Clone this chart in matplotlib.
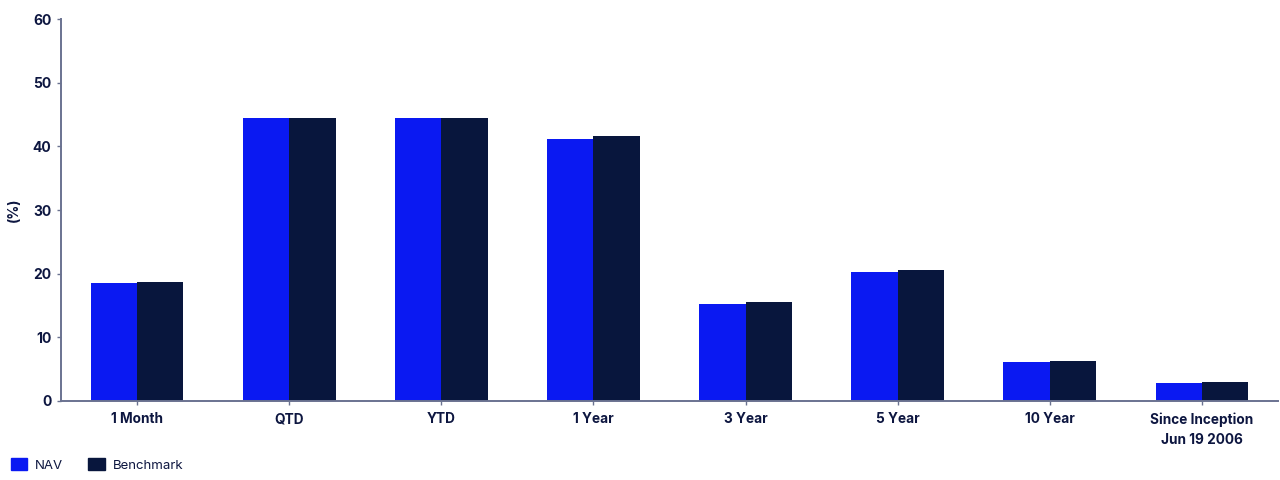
import matplotlib
matplotlib.use("Agg")
import matplotlib.pyplot as plt
from matplotlib.patches import Patch
import numpy as np

plt.rcParams['font.family'] = ['Inter', 'DejaVu Sans']

categories = ["1 Month", "QTD", "YTD", "1 Year", "3 Year", "5 Year", "10 Year",
              "Since Inception\nJun 19 2006"]
nav = [18.5, 44.4, 44.4, 41.1, 15.2, 20.3, 6.1, 2.8]
benchmark = [18.7, 44.5, 44.5, 41.6, 15.5, 20.6, 6.3, 3.0]
yticks = [0, 10, 20, 30, 40, 50, 60]

nav_color = "#0a19f2"
bm_color = "#08163d"
text_color = "#0d1640"
spine_color = "#6a7290"

fig = plt.figure(figsize=(12.8, 4.8), dpi=100)
ax_w = (1278 - 61) / 1280
ax = fig.add_axes([61/1280, 1-401/480, ax_w, (401-19)/480])

x = np.arange(len(categories))
w = 0.305
ax.bar(x - w/2, nav, width=w, color=nav_color, label="NAV")
ax.bar(x + w/2, benchmark, width=w, color=bm_color, label="Benchmark")

ax.set_xlim(-0.5, len(categories) - 0.5)
ax.set_ylim(0, 60)
ax.set_yticks(yticks)
ax.set_xticks(x)
ax.set_xticklabels(categories, fontsize=9.8, fontweight='bold', color=text_color,
                   linespacing=1.55)
for lab in ax.get_yticklabels():
    lab.set_fontsize(10)
    lab.set_fontweight('bold')
    lab.set_color(text_color)

for s in ['top', 'right']:
    ax.spines[s].set_visible(False)
for s in ['left', 'bottom']:
    ax.spines[s].set_color(spine_color)
    ax.spines[s].set_linewidth(1.4)
ax.tick_params(axis='both', colors=spine_color, length=3, width=1)
ax.tick_params(axis='x', pad=5, labelcolor=text_color)
ax.tick_params(axis='y', pad=4, labelcolor=text_color)

ax.set_ylabel("(%)", fontsize=10, fontweight='bold', color=text_color)
ax.yaxis.set_label_coords((21 - 61) / (ax_w * 1280), 0.5)

handles = [Patch(color=nav_color, label="NAV"), Patch(color=bm_color, label="Benchmark")]
fig.legend(handles=handles, loc='lower left', bbox_to_anchor=(5.5/1280, 3/480), ncol=2,
           frameon=False, fontsize=9.5, handlelength=1.25, handleheight=0.95,
           handletextpad=0.6, columnspacing=1.9, labelcolor=text_color,
           borderaxespad=0.0)

fig.savefig("out.png", dpi=100)
